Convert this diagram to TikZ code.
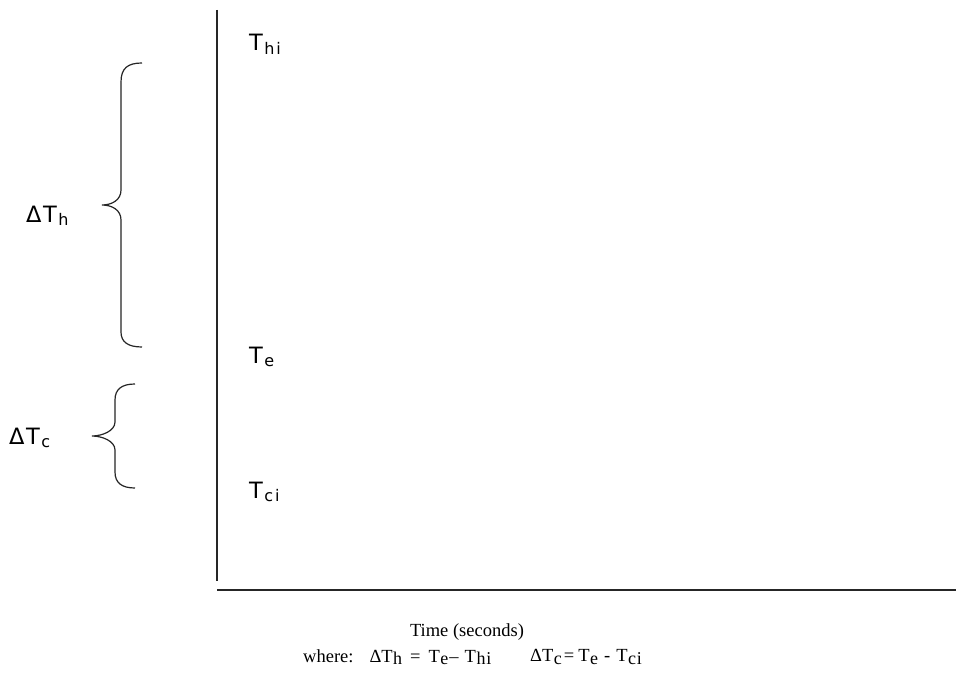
\documentclass[tikz,border=0pt]{standalone}
\usepackage{fontspec}
\setmainfont{Liberation Serif}
\newfontfamily\labfont{DejaVu Sans}
\newcommand{\sublab}[2]{#1\hspace{1.5pt}\raisebox{-0.25ex}{\fontsize{16}{16}\selectfont\addfontfeature{LetterSpace=12}#2}}
\newcommand{\serifsub}[2]{#1\hspace{0.5pt}\raisebox{-0.28ex}{\fontsize{18}{18}\selectfont\addfontfeature{LetterSpace=5}#2}}
\begin{document}
\begin{tikzpicture}[x=1pt,y=-1pt,
  lab/.style={font=\labfont\fontsize{22.5}{24}\selectfont, inner sep=0pt, anchor=base west},
  bot/.style={font=\fontsize{18.5}{20}\selectfont, inner sep=0pt},
  axis/.style={line width=1.5pt, black!85},
  brace/.style={line width=1.2pt, black!85}]
\useasboundingbox (0,0) rectangle (956,674);
\fill[white] (0,0) rectangle (956,674);
% axes
\coordinate (ytop) at (217,10);
\coordinate (ybot) at (217,581);
\coordinate (xl) at (217,590);
\coordinate (xr) at (956,590);
\draw[axis] (ytop) -- (ybot);
\draw[axis] (xl) -- (xr);
% labels on the axis
\node[lab] (thi) at (249,51) {\sublab{T}{hi}};
\node[lab] (te) at (249,363) {\sublab{T}{e}};
\node[lab] (tci) at (249,498) {\sublab{T}{ci}};
% braces
\draw[brace] (142,63) .. controls (128,63) and (121,68) .. (121,82) -- (121,190)
  .. controls (121,200) and (112,205) .. (102,205)
  .. controls (112,205) and (121,210) .. (121,220) -- (121,332)
  .. controls (121,342) and (128,347) .. (142,347);
\draw[brace] (135,384) .. controls (122,384) and (115,389) .. (115,400) -- (115,422)
  .. controls (115,431) and (102,436) .. (92,436)
  .. controls (102,436) and (115,441) .. (115,450) -- (115,472)
  .. controls (115,483) and (122,488) .. (135,488);
\node[lab] (dth) at (26,222) {\sublab{Δ\hspace{1.5pt}T}{h}};
\node[lab] (dtc) at (9,444) {\sublab{Δ\hspace{1.5pt}T}{c}};
% bottom text
\node[bot] (time) at (467,632) {Time (seconds)};
\node[bot, anchor=west] (where) at (303,657) {where:\hspace{16pt}Δ\serifsub{T}{h}\hspace{8pt}=\hspace{8pt}\serifsub{T}{e}\hspace{1pt}–\hspace{6pt}\serifsub{T}{hi}};
\node[bot, anchor=west] (eqc) at (530,657) {Δ\serifsub{T}{c}\hspace{2pt}=\hspace{4pt}\serifsub{T}{e}\hspace{6pt}-\hspace{6pt}\serifsub{T}{ci}};
\end{tikzpicture}
\end{document}
